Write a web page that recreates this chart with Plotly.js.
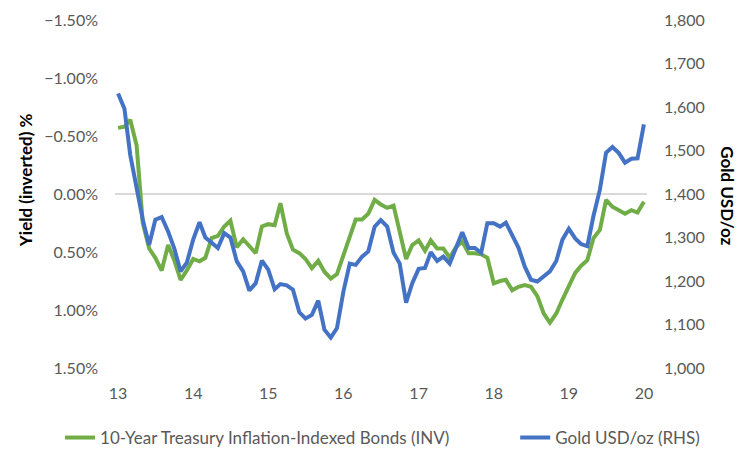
<!DOCTYPE html>
<html>
<head>
<meta charset="utf-8">
<script src="https://cdn.plot.ly/plotly-3.0.1.min.js"></script>
<style>html,body{margin:0;padding:0;background:#fff;}#chart{width:743px;height:450px;}</style>
</head>
<body>
<div id="chart"></div>
<script>
const months = [
 "2013-01","2013-02","2013-03","2013-04","2013-05","2013-06","2013-07","2013-08","2013-09","2013-10","2013-11","2013-12",
 "2014-01","2014-02","2014-03","2014-04","2014-05","2014-06","2014-07","2014-08","2014-09","2014-10","2014-11","2014-12",
 "2015-01","2015-02","2015-03","2015-04","2015-05","2015-06","2015-07","2015-08","2015-09","2015-10","2015-11","2015-12",
 "2016-01","2016-02","2016-03","2016-04","2016-05","2016-06","2016-07","2016-08","2016-09","2016-10","2016-11","2016-12",
 "2017-01","2017-02","2017-03","2017-04","2017-05","2017-06","2017-07","2017-08","2017-09","2017-10","2017-11","2017-12",
 "2018-01","2018-02","2018-03","2018-04","2018-05","2018-06","2018-07","2018-08","2018-09","2018-10","2018-11","2018-12",
 "2019-01","2019-02","2019-03","2019-04","2019-05","2019-06","2019-07","2019-08","2019-09","2019-10","2019-11","2019-12",
 "2020-01"
];
const tipsYield = [
 -0.57,-0.58,-0.64,-0.42,0.25,0.47,0.55,0.66,0.44,0.57,
 0.74,0.66,0.56,0.58,0.55,0.38,0.36,0.28,0.23,0.46,
 0.39,0.45,0.51,0.28,0.26,0.27,0.08,0.34,0.48,0.51,
 0.56,0.64,0.575,0.67,0.73,0.69,0.52,0.37,0.22,0.22,
 0.17,0.05,0.09,0.12,0.10,0.32,0.56,0.44,0.40,0.49,
 0.40,0.47,0.47,0.55,0.46,0.41,0.51,0.51,0.52,0.55,
 0.77,0.75,0.74,0.83,0.80,0.785,0.80,0.88,1.03,1.11,
 1.03,0.91,0.79,0.68,0.62,0.57,0.38,0.31,0.05,0.11,
 0.14,0.17,0.14,0.16,0.066
];
const goldPrice = [
 1631,1596,1490,1415,1341,1283,1341,1347,1314,1275,
 1222,1242,1295,1335,1300,1288,1276,1310,1300,1245,
 1222,1178,1195,1247,1226,1181,1193,1190,1180,1128,
 1114,1122,1155,1088,1070,1092,1175,1240,1237,1256,
 1268,1325,1340,1325,1265,1240,1150,1195,1228,1230,
 1266,1246,1256,1240,1275,1312,1276,1276,1265,1333,
 1333,1325,1334,1303,1277,1233,1203,1199,1212,1222,
 1246,1295,1320,1298,1285,1280,1350,1410,1495,1508,
 1494,1472,1481,1482,1560
];
const seriesNames = ["10-Year Treasury Inflation-Indexed Bonds (INV)", "Gold USD/oz (RHS)"];
const leftTitle = "Yield (inverted) %";
const rightTitle = "Gold USD/oz";

const FONT = "Lato, 'Liberation Sans', sans-serif";
const legendFont = {family: FONT, size: 17, color: "#595959"};
const traces = [
  {x: months, y: tipsYield, name: seriesNames[0], type: "scatter", mode: "lines",
   line: {color: "#70AD47", width: 4}, yaxis: "y", legend: "legend"},
  {x: months, y: goldPrice, name: seriesNames[1], type: "scatter", mode: "lines",
   line: {color: "#4472C4", width: 4}, yaxis: "y2", legend: "legend2"}
];
const layout = {
  width: 743, height: 450,
  margin: {l: 115, r: 96, t: 20, b: 82, autoexpand: false},
  paper_bgcolor: "#fff", plot_bgcolor: "#fff",
  font: {family: FONT, size: 16, color: "#595959"},
  showlegend: true,
  legend: {orientation: "h", xref: "container", yref: "container", x: 0.0808, xanchor: "left",
           y: 0.0267, yanchor: "middle", font: legendFont},
  legend2: {orientation: "h", xref: "container", yref: "container", x: 0.6934, xanchor: "left",
           y: 0.0267, yanchor: "middle", font: legendFont},
  xaxis: {type: "date", range: ["2012-12-17", "2020-01-16"], tickformat: "%y", dtick: "M12",
          tick0: "2013-01-01", showgrid: false, zeroline: false, showline: false, ticks: "",
          ticklabelstandoff: 14, tickfont: {family: FONT, size: 16, color: "#595959"}},
  yaxis: {range: [1.5, -1.5], dtick: 0.5, tickformat: ".2f", ticksuffix: "%", showgrid: false,
          zeroline: true, zerolinecolor: "#d9d9d9", zerolinewidth: 2, showline: false, ticks: "",
          ticklabelstandoff: 16, tickfont: {family: FONT, size: 16, color: "#595959"}},
  yaxis2: {range: [1000, 1800], dtick: 100, tickformat: ",d", overlaying: "y", side: "right",
          showgrid: false, zeroline: false, showline: false, ticks: "",
          ticklabelstandoff: 16, tickfont: {family: FONT, size: 16, color: "#595959"}},
  annotations: [
    {text: leftTitle, xref: "paper", yref: "paper", x: -0.169, y: 0.54, textangle: -90,
     showarrow: false, xanchor: "center", yanchor: "middle",
     font: {family: FONT, size: 17, color: "#000", weight: "bold"}},
    {text: rightTitle, xref: "paper", yref: "paper", x: 1.152, y: 0.494, textangle: 90,
     showarrow: false, xanchor: "center", yanchor: "middle",
     font: {family: FONT, size: 17, color: "#000", weight: "bold"}}
  ]
};
Plotly.newPlot("chart", traces, layout, {displayModeBar: false, staticPlot: true});
</script>
</body>
</html>
